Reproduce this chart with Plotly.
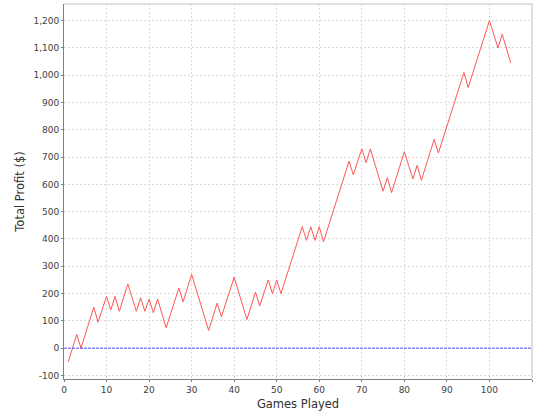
import plotly.graph_objects as go

# Cumulative profit after each game
games = list(range(1, 106))
profit = [
    -50, 0, 50, 0, 50, 100, 150, 95, 145, 190,
    140, 190, 135, 185, 235, 185, 135, 185, 135, 180,
    130, 180, 128, 75, 123, 172, 220, 170, 220, 270,
    219, 168, 116, 65, 115, 165, 115, 163, 212, 260,
    208, 157, 105, 155, 205, 155, 203, 250, 200, 250,
    200, 249, 298, 347, 396, 445, 395, 445, 395, 445,
    390, 439, 488, 538, 587, 636, 685, 635, 683, 730,
    680, 730, 678, 627, 575, 625, 570, 620, 670, 720,
    670, 620, 670, 615, 665, 715, 765, 715, 764, 813,
    863, 912, 961, 1010, 955, 1004, 1053, 1102, 1151, 1200,
    1150, 1100, 1150, 1098, 1045,
]

x_ticks = list(range(0, 111, 10))
y_ticks = list(range(-100, 1201, 100))
y_tick_text = [f'{v:,}' for v in y_ticks]

font_family = 'DejaVu Sans'

fig = go.Figure()

fig.add_trace(go.Scatter(
    x=games,
    y=profit,
    mode='lines',
    line=dict(color='#FF5555', width=1),
    showlegend=False,
))

# break-even line
fig.add_hline(y=0, line=dict(color='#5050FF', width=1, dash='3px,1px'))

# light plot outline on top and right
fig.add_shape(type='line', xref='paper', yref='paper', x0=0, x1=1, y0=1, y1=1,
              line=dict(color='#C0C0C0', width=1))
fig.add_shape(type='line', xref='paper', yref='paper', x0=1, x1=1, y0=0, y1=1,
              line=dict(color='#C0C0C0', width=1))

fig.update_layout(
    width=540,
    height=420,
    margin=dict(l=64, r=8, t=4, b=41),
    plot_bgcolor='white',
    paper_bgcolor='white',
    font=dict(family=font_family, color='#404040'),
    xaxis=dict(
        range=[0, 110],
        automargin=False,
        tickvals=x_ticks,
        tickfont=dict(size=9, color='#404040'),
        ticks='outside',
        ticklen=2,
        tickcolor='#808080',
        showline=True,
        linecolor='#808080',
        linewidth=1,
        showgrid=True,
        gridcolor='#DADADA',
        griddash='2px,2px',
        zeroline=False,
        title=dict(text='Games Played', font=dict(size=11.5, color='#303030'), standoff=6),
    ),
    yaxis=dict(
        range=[-113, 1261],
        automargin=False,
        tickvals=y_ticks,
        ticktext=y_tick_text,
        tickfont=dict(size=9, color='#404040'),
        ticks='outside',
        ticklen=2,
        tickcolor='#808080',
        showline=True,
        linecolor='#808080',
        linewidth=1,
        showgrid=True,
        gridcolor='#DADADA',
        griddash='2px,2px',
        zeroline=False,
        title=dict(text='Total Profit ($)', font=dict(size=11.5, color='#303030'), standoff=6),
    ),
)

# the page body has a default 8px margin; drop it so the chart sits at the corner
fig.write_html(
    'out.html',
    config={'displayModeBar': False},
    post_script="document.body.style.margin = '0';",
)
